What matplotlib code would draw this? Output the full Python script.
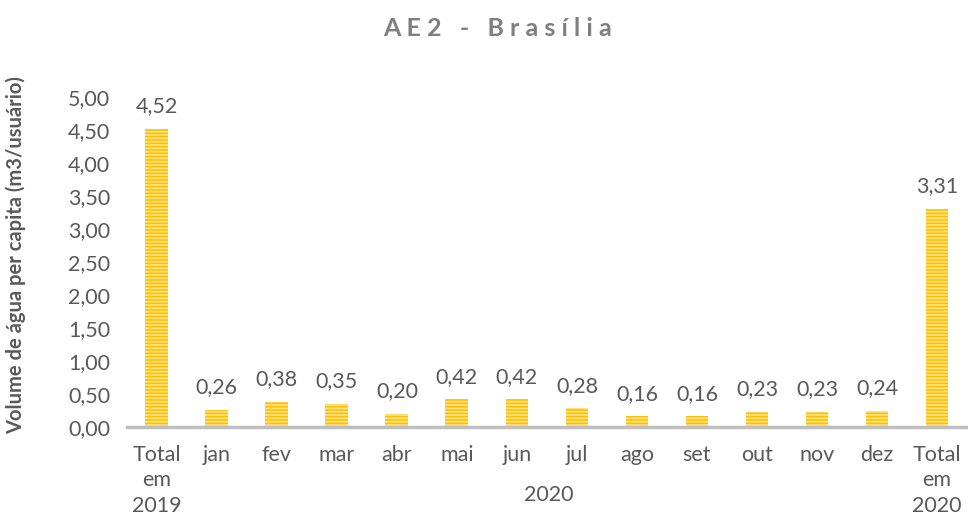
import matplotlib.pyplot as plt
from matplotlib.ticker import FuncFormatter

plt.rcParams['font.family'] = ['Lato', 'DejaVu Sans']
plt.rcParams['hatch.linewidth'] = 1.2

categorias = ['Total\nem\n2019', 'jan', 'fev', 'mar', 'abr', 'mai', 'jun',
              'jul', 'ago', 'set', 'out', 'nov', 'dez', 'Total\nem\n2020']
valores = [4.52, 0.26, 0.38, 0.35, 0.20, 0.42, 0.42,
           0.28, 0.16, 0.16, 0.23, 0.23, 0.24, 3.31]
yticks = [0, 0.5, 1, 1.5, 2, 2.5, 3, 3.5, 4, 4.5, 5]

cinza = '#595959'

fig = plt.figure(figsize=(9.68, 5.25), dpi=100)
ax = fig.add_axes([0.131, 0.187, 0.868, 0.628])

x = range(len(categorias))
ax.bar(x, valores, width=0.38, color='#FFC000', edgecolor='#FFE38A',
       linewidth=0, hatch='-----')

for xi, v in zip(x, valores):
    ax.annotate(f'{v:.2f}'.replace('.', ','), (xi, v), xytext=(0, 9),
                textcoords='offset points', ha='center', va='bottom',
                fontsize=15.5, color=cinza)

ax.set_xlim(-0.5, len(categorias) - 0.5)
ax.set_ylim(0, 5)
ax.set_yticks(yticks)
ax.yaxis.set_major_formatter(FuncFormatter(lambda v, p: f'{v:.2f}'.replace('.', ',')))
ax.set_xticks(list(x))
ax.set_xticklabels(categorias, linespacing=1.35)

ax.tick_params(axis='y', length=0, pad=12, labelsize=15.5, labelcolor=cinza)
ax.tick_params(axis='x', length=0, pad=13, labelsize=15.5, labelcolor=cinza)

for s in ['top', 'right', 'left']:
    ax.spines[s].set_visible(False)
ax.spines['bottom'].set_color('#BFBFBF')
ax.spines['bottom'].set_linewidth(2.5)

ax.set_ylabel('Volume de água per capita (m3/usuário)', fontsize=14.5,
              fontweight='bold', color=cinza)
ax.yaxis.set_label_coords(-0.12, 0.52)

fig.text(0.567, 0.057, '2020', ha='center', va='center', fontsize=15.5, color=cinza)
fig.text(0.514, 0.945, 'A E 2   -   B r a s í l i a', ha='center', va='center',
         fontsize=18, fontweight='bold', color='#7F7F7F')

fig.savefig('out.png', dpi=100)
